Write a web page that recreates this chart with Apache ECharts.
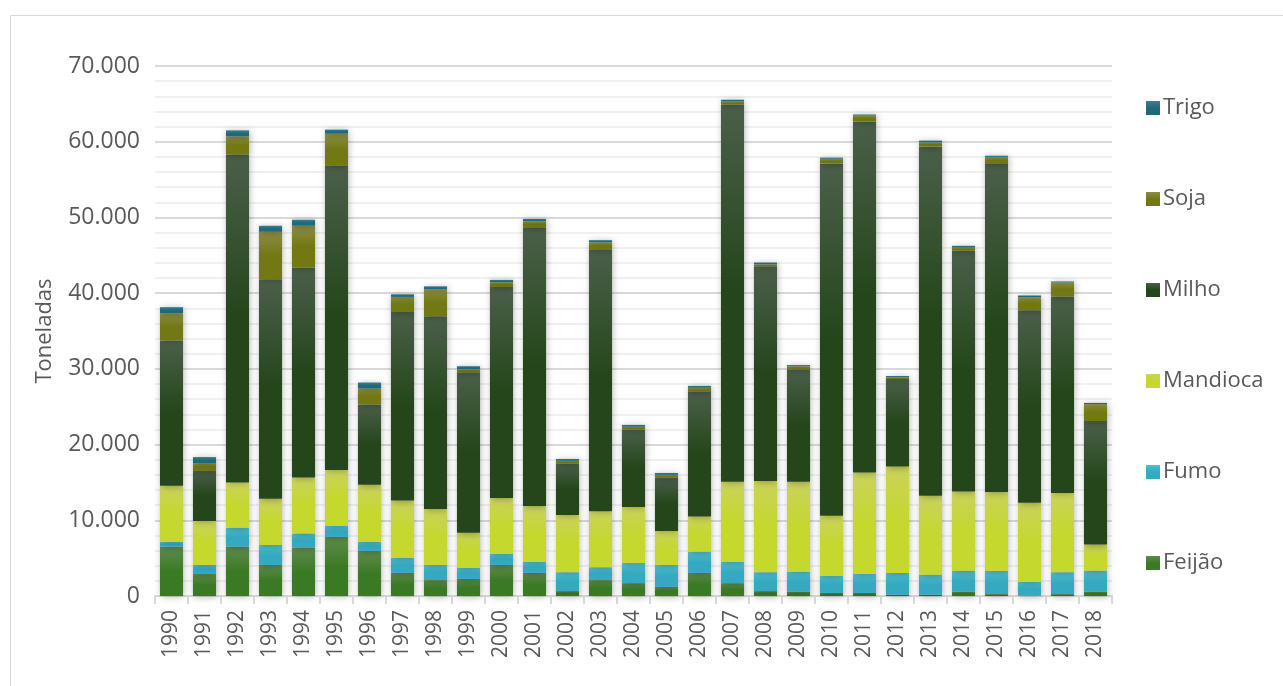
<html>
<head>
<meta charset="utf-8">
<style>
  html, body { margin: 0; padding: 0; width: 100%; height: 100%; background: #fff; }
  #chart { width: 1283px; height: 686px; }
</style>
<script src="https://cdn.jsdelivr.net/npm/echarts@6/dist/echarts.min.js"></script>
</head>
<body>
<div id="chart"></div>
<script>
// anos
var anos = ['1990','1991','1992','1993','1994','1995','1996','1997','1998','1999',
            '2000','2001','2002','2003','2004','2005','2006','2007','2008','2009',
            '2010','2011','2012','2013','2014','2015','2016','2017','2018'];

// toneladas
var feijao   = [6500,2900,6500,4100,6400,7800,5950,3050,2100,2250,4100,3050,650,2100,1700,1200,3050,1700,650,550,400,400,150,150,550,250,50,250,550];
var fumo     = [650,1200,2500,2650,1850,1450,1200,2000,2000,1450,1450,1450,2500,1700,2650,2900,2800,2800,2500,2650,2250,2500,2900,2650,2800,3050,1800,2900,2800];
var mandioca = [7400,5800,6000,6100,7400,7400,7550,7550,7400,4650,7400,7400,7550,7400,7400,4500,4650,10600,12050,11900,7950,13400,14050,10450,10450,10450,10450,10450,3450];
var milho    = [19200,6600,43300,29000,27700,40150,10600,24900,25450,21200,27850,36800,6750,34600,10200,7000,16450,49800,28350,14850,46500,46350,11550,46100,31800,43300,25450,25950,16300];
var soja     = [3600,1050,2400,6250,5550,4250,2100,2000,3550,400,650,800,400,900,400,400,550,400,250,400,650,800,250,550,400,950,1700,1850,2250];
var trigo    = [800,800,800,800,800,550,800,350,400,400,300,300,250,300,250,250,250,250,250,150,150,150,150,250,250,150,250,150,150];

var legendaOrdem = ['Trigo','Soja','Milho','Mandioca','Fumo','Feijão'];

function grad(top, bottom) {
    return new echarts.graphic.LinearGradient(0, 0, 0, 1, [
        { offset: 0, color: top },
        { offset: 0.5, color: bottom },
        { offset: 1, color: bottom }
    ]);
}

function serie(nome, dados, top, bottom) {
    return {
        name: nome,
        type: 'bar',
        stack: 'total',
        barCategoryGap: '30%',
        data: dados,
        itemStyle: {
            color: grad(top, bottom),
            shadowColor: 'rgba(0,0,0,0.30)',
            shadowBlur: 7,
            shadowOffsetX: 1,
            shadowOffsetY: 1
        }
    };
}

function fmt(v) {
    return String(v).replace(/\B(?=(\d{3})+(?!\d))/g, '.');
}

var chart = echarts.init(document.getElementById('chart'));
chart.setOption({
    animation: false,
    textStyle: { fontFamily: 'Open Sans' },
    graphic: [{
        type: 'rect',
        shape: { x: 10.5, y: 15.5, width: 1290, height: 700 },
        style: { fill: 'none', stroke: '#d9d9d9', lineWidth: 1 },
        silent: true
    }],
    legend: {
        data: legendaOrdem,
        orient: 'vertical',
        left: 1141,
        top: 92,
        itemWidth: 14,
        itemHeight: 14,
        itemGap: 69,
        icon: 'rect',
        textStyle: { color: '#595959', fontSize: 22, padding: [0, 0, 0, -2] }
    },
    grid: { left: 155, right: 171, top: 66, bottom: 90 },
    xAxis: {
        type: 'category',
        data: anos,
        axisLine: { lineStyle: { color: '#d9d9d9', width: 2 } },
        axisTick: { show: true, length: 8, lineStyle: { color: '#d9d9d9', width: 2 } },
        axisLabel: { rotate: 90, color: '#595959', fontSize: 21, margin: 14 }
    },
    yAxis: {
        type: 'value',
        min: 0,
        max: 70000,
        interval: 10000,
        name: 'Toneladas',
        nameLocation: 'middle',
        nameGap: 99,
        nameTextStyle: { color: '#595959', fontSize: 22 },
        axisLine: { show: false },
        axisTick: { show: false },
        axisLabel: { color: '#595959', fontSize: 23, margin: 15, formatter: fmt },
        splitLine: { lineStyle: { color: '#d9d9d9', width: 2 } },
        minorTick: { show: false, splitNumber: 5 },
        minorSplitLine: { show: true, lineStyle: { color: '#f0f0f0', width: 2 } }
    },
    series: [
        serie('Feijão', feijao, '#5e8c4e', '#3b7a24'),
        serie('Fumo', fumo, '#52bfcd', '#34a9c0'),
        serie('Mandioca', mandioca, '#cad35c', '#c4d82e'),
        serie('Milho', milho, '#4b5f4a', '#24461a'),
        serie('Soja', soja, '#8c8e44', '#727812'),
        serie('Trigo', trigo, '#3a7f8c', '#1f6a7a')
    ]
});
</script>
</body>
</html>
